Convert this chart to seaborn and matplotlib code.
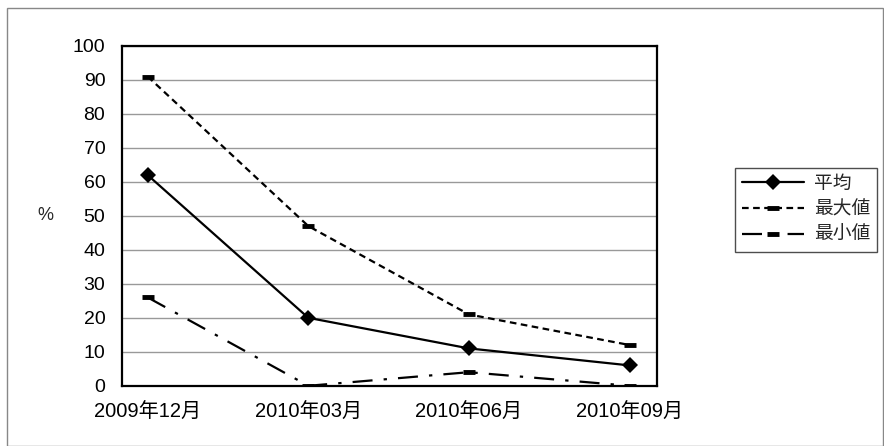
import matplotlib
matplotlib.use('Agg')
import matplotlib.pyplot as plt
import seaborn as sns
import pandas as pd
from matplotlib.patches import Rectangle

months = ['2009年12月', '2010年03月', '2010年06月', '2010年09月']
avg_vals = [62, 20, 11, 6]
max_vals = [91, 47, 21, 12]
min_vals = [26, 0, 4, 0]
y_ticks = list(range(0, 101, 10))


def main():
	sns.set_theme(style='white')
	plt.rcParams['font.family'] = ['Liberation Sans', 'Noto Sans CJK JP', 'DejaVu Sans']

	df = pd.DataFrame({
		'month': list(range(len(months))) * 3,
		'value': avg_vals + max_vals + min_vals,
		'series': ['平均'] * 4 + ['最大値'] * 4 + ['最小値'] * 4,
	})

	fig = plt.figure(figsize=(8.84, 4.46), dpi=100)
	ax = fig.add_axes([0.138, 0.135, 0.605, 0.762])

	styles = {
		'平均': dict(marker='D', markersize=8, linestyle='-', markeredgewidth=0),
		'最大値': dict(marker='_', markersize=9, markeredgewidth=3.5, linestyle=(0, (3, 2))),
		'最小値': dict(marker='_', markersize=9, markeredgewidth=3.5, linestyle=(0, (9, 5, 1.5, 5))),
	}
	for name, st in styles.items():
		sns.lineplot(data=df[df['series'] == name], x='month', y='value', ax=ax,
			color='black', markeredgecolor='black', markerfacecolor='black',
			linewidth=1.6, label=name, **st)

	ax.set_xlim(-0.16, 3.17)
	ax.set_ylim(0, 100)
	ax.set_yticks(y_ticks)
	ax.set_xticks(range(len(months)))
	ax.set_xticklabels(months)
	ax.tick_params(axis='both', length=0, colors='black')
	ax.tick_params(axis='y', pad=12, labelsize=14)
	ax.tick_params(axis='x', pad=12, labelsize=14.5)
	ax.set_xticks([i + 0.83 for i in range(len(months) - 1)], minor=True)
	ax.tick_params(axis='x', which='minor', direction='in', length=5, width=0.8, color='#555555')
	ax.yaxis.grid(True, color='#999999', linewidth=1)
	ax.set_axisbelow(True)
	for s in ax.spines.values():
		s.set_color('black')
		s.set_linewidth(1.6)

	ax.set_xlabel('')
	ax.set_ylabel('%', rotation=0, fontsize=13, va='center')
	ax.yaxis.set_label_coords(-0.143, 0.5)

	leg = ax.legend(loc='upper left', bbox_to_anchor=(1.146, 0.64), frameon=True,
		fancybox=False, fontsize=13.5, handlelength=3.3, borderpad=0.4,
		labelspacing=0.45, handletextpad=0.5, borderaxespad=0)
	leg.get_frame().set_edgecolor('#222222')
	leg.get_frame().set_linewidth(1)

	fig.patches.append(Rectangle((7 / 884, 0), 876 / 884, 1 - 8 / 446, transform=fig.transFigure,
		fill=False, edgecolor='#888888', linewidth=1))

	fig.savefig('out.png', dpi=100)


if __name__ == '__main__':
	main()
